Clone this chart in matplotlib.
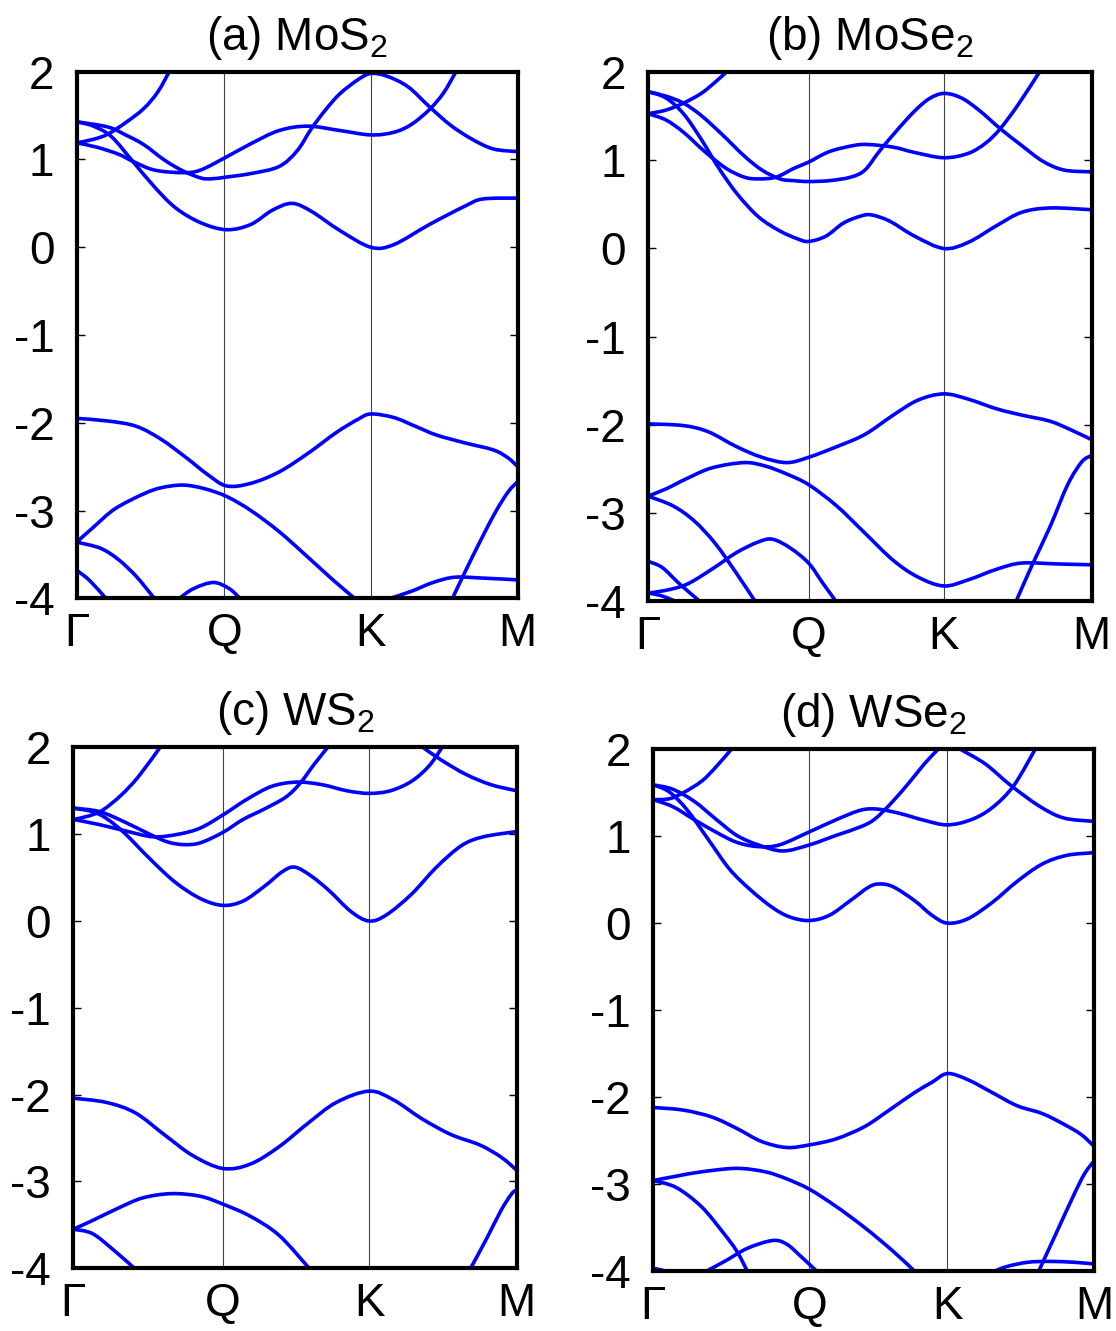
import matplotlib
matplotlib.use('Agg')
import matplotlib.pyplot as plt
from matplotlib.path import Path
from matplotlib.patches import PathPatch

plt.rcParams['font.family'] = ['Liberation Sans', 'DejaVu Sans']
plt.rcParams['mathtext.fontset'] = 'custom'
plt.rcParams['mathtext.rm'] = 'Liberation Sans'
plt.rcParams['mathtext.default'] = 'regular'
plt.rcParams['axes.unicode_minus'] = False

# path coordinate: Gamma = 0, K = 2/3, M = 1 (Q is per material)
k_labels = ['Γ', 'Q', 'K', 'M']
titles = ['(a) MoS$_2$', '(b) MoSe$_2$', '(c) WS$_2$', '(d) WSe$_2$']
q_points = [0.335, 0.362, 0.337, 0.354]
k_point = 0.667

# each band: (k along path, energy in eV)
mos2_bands = [
    ([0, .038, .079, .127, .176, .224, .281, .340, .395, .443, .488, .532, .597, .667, .719, .800, .881, .921, 1.0],
     [1.43, 1.38, 1.26, 0.98, 0.69, 0.45, 0.28, 0.20, 0.26, 0.42, 0.50, 0.41, 0.19, 0.0, 0.03, 0.26, 0.47, 0.55, 0.56]),
    ([0, .071, .111, .152, .200, .241, .281, .305, .340, .395, .459, .500, .532, .565, .597, .638, .667, .703, .751, .800, .848, .897, .945, 1.0],
     [1.43, 1.37, 1.28, 1.17, 0.99, 0.87, 0.79, 0.78, 0.80, 0.84, 0.92, 1.10, 1.35, 1.57, 1.75, 1.91, 1.98, 1.95, 1.83, 1.60, 1.39, 1.23, 1.12, 1.09]),
    ([0, .046, .095, .127, .176, .241, .281, .340, .395, .459, .524, .597, .667, .719, .759, .800, .832, .860],
     [1.19, 1.14, 1.06, 0.98, 0.88, 0.85, 0.88, 1.03, 1.18, 1.33, 1.38, 1.33, 1.28, 1.31, 1.40, 1.57, 1.76, 2.0]),
    ([0, .038, .071, .111, .152, .184, .212],
     [1.19, 1.23, 1.29, 1.42, 1.58, 1.77, 2.02]),
    ([0, .071, .135, .192, .249, .297, .340, .395, .459, .524, .589, .638, .667, .719, .768, .816, .881, .945, .978, 1.0],
     [-1.95, -1.98, -2.04, -2.19, -2.40, -2.59, -2.72, -2.69, -2.56, -2.35, -2.11, -1.96, -1.90, -1.94, -2.04, -2.14, -2.23, -2.31, -2.40, -2.50]),
    ([0, .038, .087, .152, .192, .241, .289, .340, .395, .459, .524, .581, .630],
     [-3.36, -3.19, -2.98, -2.81, -2.74, -2.71, -2.75, -2.84, -3.00, -3.24, -3.53, -3.79, -4.0]),
    ([0, .054, .095, .135, .176],
     [-3.36, -3.43, -3.56, -3.75, -4.0]),
    ([0, .030, .066],
     [-3.68, -3.80, -4.0]),
    ([.233, .265, .310, .346, .370],
     [-4.0, -3.89, -3.82, -3.89, -4.0]),
    ([.711, .759, .808, .857, .921, 1.0],
     [-4.0, -3.92, -3.82, -3.76, -3.77, -3.79]),
    ([.852, .897, .946, .978, 1.0],
     [-4.0, -3.53, -3.05, -2.79, -2.67]),
]

mose2_bands = [
    ([0, .040, .080, .120, .152, .183],
     [1.53, 1.57, 1.65, 1.76, 1.89, 2.03]),
    ([0, .040, .080, .128, .176, .217, .249, .289, .329, .362, .409, .465, .497, .553, .601, .667, .722, .762, .794, .834, .882],
     [1.53, 1.46, 1.32, 1.10, 0.91, 0.81, 0.79, 0.81, 0.91, 0.98, 1.10, 1.17, 1.18, 1.15, 1.09, 1.03, 1.08, 1.20, 1.36, 1.63, 2.0]),
    ([0, .040, .080, .120, .168, .217, .257, .297, .329, .362, .409, .457, .489, .521, .561, .601, .634, .667, .706, .746, .794, .842, .890, .938, 1.0],
     [1.78, 1.73, 1.65, 1.51, 1.29, 1.05, 0.89, 0.79, 0.77, 0.76, 0.77, 0.81, 0.89, 1.10, 1.34, 1.56, 1.70, 1.76, 1.71, 1.57, 1.36, 1.17, 0.99, 0.89, 0.87]),
    ([0, .040, .080, .120, .160, .201, .249, .297, .337, .362, .401, .441, .481, .505, .545, .601, .667, .722, .786, .842, .906, 1.0],
     [1.78, 1.71, 1.53, 1.24, 0.91, 0.62, 0.36, 0.20, 0.11, 0.08, 0.14, 0.29, 0.37, 0.38, 0.31, 0.14, 0.0, 0.07, 0.26, 0.41, 0.46, 0.44]),
    ([0, .080, .136, .200, .257, .313, .362, .425, .489, .553, .609, .667, .722, .786, .842, .906, .954, 1.0],
     [-1.99, -2.01, -2.08, -2.25, -2.37, -2.43, -2.37, -2.25, -2.11, -1.89, -1.72, -1.65, -1.71, -1.82, -1.89, -1.96, -2.06, -2.17]),
    ([0, .040, .088, .144, .217, .265, .313, .362, .425, .489, .553, .609, .667, .722, .786, .842, .922, 1.0],
     [-2.81, -2.73, -2.61, -2.49, -2.43, -2.47, -2.56, -2.68, -2.92, -3.23, -3.54, -3.73, -3.83, -3.76, -3.64, -3.57, -3.58, -3.59]),
    ([0, .056, .104, .152, .200, .241],
     [-2.81, -2.92, -3.09, -3.35, -3.69, -4.0]),
    ([0, .032, .072, .116],
     [-3.55, -3.62, -3.81, -4.0]),
    ([0, .040, .088, .144, .200, .249, .281, .321, .362, .393, .423],
     [-3.91, -3.88, -3.81, -3.64, -3.45, -3.33, -3.30, -3.40, -3.57, -3.79, -4.0]),
    ([0, .030, .060],
     [-3.91, -3.94, -4.0]),
    ([.830, .866, .906, .946, .978, 1.0],
     [-4.0, -3.59, -3.16, -2.68, -2.42, -2.35]),
]

ws2_bands = [
    ([0, .035, .067, .108, .148, .197],
     [1.17, 1.21, 1.28, 1.45, 1.67, 2.01]),
    ([0, .043, .075, .116, .172, .229, .286, .337, .383, .431, .472, .500, .536, .577, .626, .667, .706, .763, .819, .876, .925, 1.0],
     [1.30, 1.26, 1.18, 1.01, 0.72, 0.45, 0.26, 0.18, 0.23, 0.40, 0.57, 0.62, 0.52, 0.35, 0.11, 0.0, 0.07, 0.31, 0.62, 0.87, 0.97, 1.03]),
    ([0, .059, .116, .172, .213, .249, .286, .337, .383, .431, .480, .512, .544, .577],
     [1.30, 1.26, 1.14, 1.00, 0.91, 0.88, 0.90, 1.02, 1.17, 1.29, 1.43, 1.59, 1.81, 2.02]),
    ([0, .059, .116, .180, .237, .286, .337, .391, .447, .504, .561, .617, .667, .715, .763, .803, .833],
     [1.17, 1.11, 1.04, 0.97, 1.00, 1.07, 1.22, 1.40, 1.55, 1.60, 1.57, 1.50, 1.47, 1.50, 1.61, 1.79, 2.01]),
    ([.783, .828, .885, .942, 1.0],
     [2.02, 1.86, 1.69, 1.57, 1.50]),
    ([0, .075, .140, .205, .269, .337, .399, .464, .529, .593, .667, .722, .787, .852, .917, .965, 1.0],
     [-2.04, -2.09, -2.21, -2.46, -2.70, -2.85, -2.80, -2.60, -2.33, -2.09, -1.96, -2.06, -2.28, -2.46, -2.58, -2.72, -2.87]),
    ([0, .043, .100, .156, .221, .286, .337, .399, .464, .532],
     [-3.55, -3.45, -3.31, -3.19, -3.14, -3.17, -3.26, -3.40, -3.62, -4.0]),
    ([0, .043, .091, .138],
     [-3.55, -3.60, -3.79, -4.0]),
    ([.896, .933, .965, .989, 1.0],
     [-4.0, -3.65, -3.33, -3.14, -3.10]),
]

wse2_bands = [
    ([0, .036, .068, .109, .141, .177],
     [1.42, 1.43, 1.50, 1.63, 1.79, 2.0]),
    ([0, .044, .093, .141, .189, .238, .286, .354, .415, .471, .511, .560, .616, .667, .721, .769, .817, .866],
     [1.42, 1.34, 1.19, 1.05, 0.93, 0.88, 0.90, 1.05, 1.19, 1.30, 1.31, 1.26, 1.18, 1.13, 1.19, 1.33, 1.58, 2.0]),
    ([0, .044, .093, .141, .189, .238, .294, .354, .415, .471, .503, .543, .584, .616, .644],
     [1.59, 1.54, 1.40, 1.20, 1.01, 0.90, 0.83, 0.90, 1.01, 1.11, 1.20, 1.40, 1.64, 1.84, 1.99]),
    ([.696, .753, .809, .874, .930, 1.0],
     [2.0, 1.83, 1.59, 1.35, 1.21, 1.17]),
    ([0, .036, .077, .125, .173, .221, .270, .310, .354, .399, .447, .487, .511, .543, .592, .632, .667, .713, .769, .825, .882, .938, 1.0],
     [1.59, 1.51, 1.30, 0.96, 0.62, 0.38, 0.18, 0.07, 0.03, 0.09, 0.26, 0.41, 0.45, 0.42, 0.26, 0.09, 0.0, 0.05, 0.24, 0.48, 0.68, 0.78, 0.81]),
    ([0, .068, .133, .189, .245, .302, .354, .415, .479, .535, .592, .632, .667, .713, .769, .825, .882, .930, .970, 1.0],
     [-2.12, -2.15, -2.23, -2.36, -2.51, -2.58, -2.55, -2.48, -2.34, -2.15, -1.95, -1.83, -1.73, -1.80, -1.95, -2.10, -2.19, -2.31, -2.43, -2.57]),
    ([0, .052, .109, .189, .254, .302, .354, .415, .479, .543, .592],
     [-2.96, -2.91, -2.86, -2.82, -2.86, -2.94, -3.06, -3.26, -3.50, -3.77, -4.0]),
    ([0, .052, .109, .157, .189, .213],
     [-2.96, -3.04, -3.26, -3.55, -3.77, -4.0]),
    ([.121, .165, .213, .270, .302, .334, .370],
     [-4.0, -3.88, -3.74, -3.65, -3.69, -3.83, -4.0]),
    ([0, .020, .040],
     [-3.97, -3.99, -4.02]),
    ([.765, .801, .849, .898, .954, 1.0],
     [-4.02, -3.95, -3.90, -3.89, -3.90, -3.92]),
    ([.874, .914, .954, .978, 1.0],
     [-4.0, -3.56, -3.12, -2.88, -2.73]),
]

all_bands = [mos2_bands, mose2_bands, ws2_bands, wse2_bands]


def band_path(kk, ee):
    # smooth cubic segments passing through every listed (k, E) point
    pts = list(zip(kk, ee))
    n = len(pts)
    verts = [pts[0]]
    codes = [Path.MOVETO]
    for i in range(n - 1):
        p0 = pts[max(i - 1, 0)]
        p1 = pts[i]
        p2 = pts[i + 1]
        p3 = pts[min(i + 2, n - 1)]
        c1 = (p1[0] + (p2[0] - p0[0]) / 6, p1[1] + (p2[1] - p0[1]) / 6)
        c2 = (p2[0] - (p3[0] - p1[0]) / 6, p2[1] - (p3[1] - p1[1]) / 6)
        verts += [c1, c2, p2]
        codes += [Path.CURVE4] * 3
    return Path(verts, codes)


# axes boxes in figure fractions: left, bottom, width, height
boxes = [
    [0.0687, 0.5505, 0.3952, 0.3956],
    [0.5806, 0.5485, 0.3976, 0.3972],
    [0.0657, 0.0471, 0.3973, 0.3914],
    [0.5854, 0.0451, 0.3952, 0.3920],
]

fig = plt.figure(figsize=(11.16, 13.31), dpi=100)

for box, bands, title, q in zip(boxes, all_bands, titles, q_points):
    ax = fig.add_axes(box)
    for x in (q, k_point):
        ax.axvline(x, color='#444444', lw=0.8, zorder=1)
    for kk, ee in bands:
        ax.add_patch(PathPatch(band_path(kk, ee), facecolor='none',
                               edgecolor='#0000ff', lw=2.6, zorder=2,
                               capstyle='butt', joinstyle='round'))
    ax.set_xlim(0, 1)
    ax.set_ylim(-4, 2)
    ax.set_xticks([0, q, k_point, 1])
    ax.set_xticklabels(k_labels)
    ax.set_yticks(range(-4, 3))
    ax.tick_params(axis='x', length=0, pad=10, labelsize=33)
    ax.tick_params(axis='y', direction='in', right=True, length=6, width=1,
                   pad=16, labelsize=33)
    for sp in ax.spines.values():
        sp.set_linewidth(3)
    ax.set_title(title, fontsize=33, pad=16)

fig.savefig('out.png', dpi=100)
